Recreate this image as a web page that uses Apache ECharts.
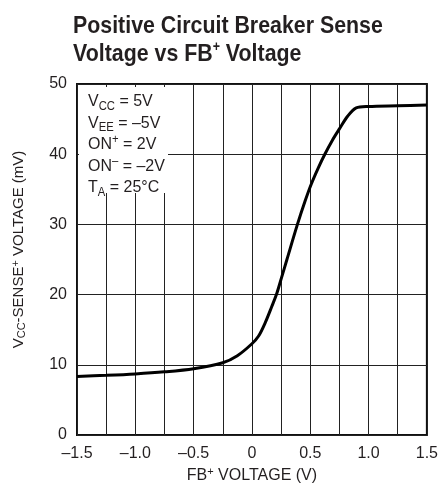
<!DOCTYPE html>
<html>
<head>
<meta charset="utf-8">
<script src="https://cdn.jsdelivr.net/npm/echarts@6/dist/echarts.min.js"></script>
<style>
html,body{margin:0;padding:0;background:#fff;}
#chart{width:441px;height:491px;}
</style>
</head>
<body>
<div id="chart"></div>
<script>
// Data
const fbVoltage = [-1.5, -1.25, -1.0, -0.75, -0.5, -0.25, -0.125, 0, 0.057, 0.114, 0.17, 0.21, 0.25, 0.30, 0.39, 0.455, 0.51, 0.57, 0.625, 0.69, 0.75, 0.82, 0.894, 1.0, 1.25, 1.5];
const senseVoltage = [8.35, 8.5, 8.7, 9.0, 9.45, 10.3, 11.3, 13.0, 14.1, 16.0, 18.3, 20, 22.2, 25.0, 30, 33.3, 35.8, 38.1, 40, 42.0, 43.6, 45.4, 46.6, 46.8, 46.9, 47.0];
const xTickLabels = {"-1.5": "–1.5", "-1": "–1.0", "-0.5": "–0.5", "0": "0", "0.5": "0.5", "1": "1.0", "1.5": "1.5"};
const yTickValues = [0, 10, 20, 30, 40, 50];
const titleLines = ["Positive Circuit Breaker Sense", "Voltage vs FB{sup|+} Voltage"];
const conditionLines = [
  "V{sub|CC} = 5V",
  "V{sub|EE} = –5V",
  "ON{sup|+} = 2V",
  "ON{sup|–} = –2V",
  "T{sub|A} = 25°C"
];

const FONT = '"Liberation Sans", Arial, sans-serif';
const INK = '#231f20';
const chart = echarts.init(document.getElementById('chart'), null, {renderer: 'canvas'});
const seriesData = fbVoltage.map((x, i) => [x, senseVoltage[i]]);

chart.setOption({
  backgroundColor: '#fff',
  animation: false,
  grid: { left: 77, right: 12, top: 84, bottom: 56, show: true, borderColor: '#111', borderWidth: 2, backgroundColor: 'transparent' },
  xAxis: {
    type: 'value', min: -1.5, max: 1.5, interval: 0.25,
    axisLine: {show: false}, axisTick: {show: false},
    splitLine: {show: true, lineStyle: {color: '#222', width: 1}},
    axisLabel: {
      fontFamily: FONT, fontSize: 16, color: INK, margin: 11,
      formatter: v => { const k = String(Math.round(v*100)/100); return xTickLabels[k] !== undefined ? xTickLabels[k] : ''; }
    },
    name: 'FB{sup|+} VOLTAGE (V)', nameLocation: 'middle', nameGap: 31,
    nameTextStyle: { fontFamily: FONT, fontSize: 16, color: INK,
      rich: { sup: { fontFamily: FONT, fontSize: 11, color: INK, verticalAlign: 'top', padding: [0,0,6,0] } } }
  },
  yAxis: {
    type: 'value', min: 0, max: 50, interval: 10,
    axisLine: {show: false}, axisTick: {show: false},
    splitLine: {show: true, lineStyle: {color: '#222', width: 1}},
    axisLabel: { fontFamily: FONT, fontSize: 16, color: INK, margin: 10,
      formatter: v => yTickValues.includes(v) ? String(v) : '' },
    name: 'V{sub|CC}-SENSE{sup|+} VOLTAGE (mV)', nameLocation: 'middle', nameGap: 50, nameRotate: 90,
    nameTextStyle: { fontFamily: FONT, fontSize: 15, color: INK, padding: [0,0,0,20],
      rich: {
        sub: { fontFamily: FONT, fontSize: 11, color: INK, verticalAlign: 'bottom', padding: [6,0,0,0] },
        sup: { fontFamily: FONT, fontSize: 11, color: INK, verticalAlign: 'top', padding: [0,0,6,0] }
      } }
  },
  graphic: [
    { type: 'text', z: 101, x: 73, y: 12, scaleX: 0.89, scaleY: 1,
      style: {
        text: titleLines.join('\n'), fontFamily: FONT, fontWeight: 'bold', fontSize: 24, fill: INK, lineHeight: 28,
        rich: { sup: { fontFamily: FONT, fontWeight: 'bold', fontSize: 14, fill: INK, verticalAlign: 'top', lineHeight: 28, padding: [0,0,8,0] } }
      } },
    { type: 'rect', z: 100, shape: { x: 79, y: 87, width: 89, height: 106 }, style: { fill: '#fff' } },
    { type: 'text', z: 101, x: 88, y: 91, scaleX: 0.94,
      style: {
        text: conditionLines.join('\n'), fontFamily: FONT, fontSize: 17, fill: INK, lineHeight: 21.5,
        rich: {
          sub: { fontFamily: FONT, fontSize: 12, fill: INK, verticalAlign: 'bottom', lineHeight: 21.5, padding: [7,0,0,0] },
          sup: { fontFamily: FONT, fontSize: 12, fill: INK, verticalAlign: 'top', lineHeight: 21.5, padding: [0,0,7,0] }
        }
      } }
  ],
  series: [{
    type: 'line', data: seriesData, showSymbol: false, smooth: 0.3,
    lineStyle: { color: '#000', width: 3 }, z: 5
  }]
});
</script>
</body>
</html>
